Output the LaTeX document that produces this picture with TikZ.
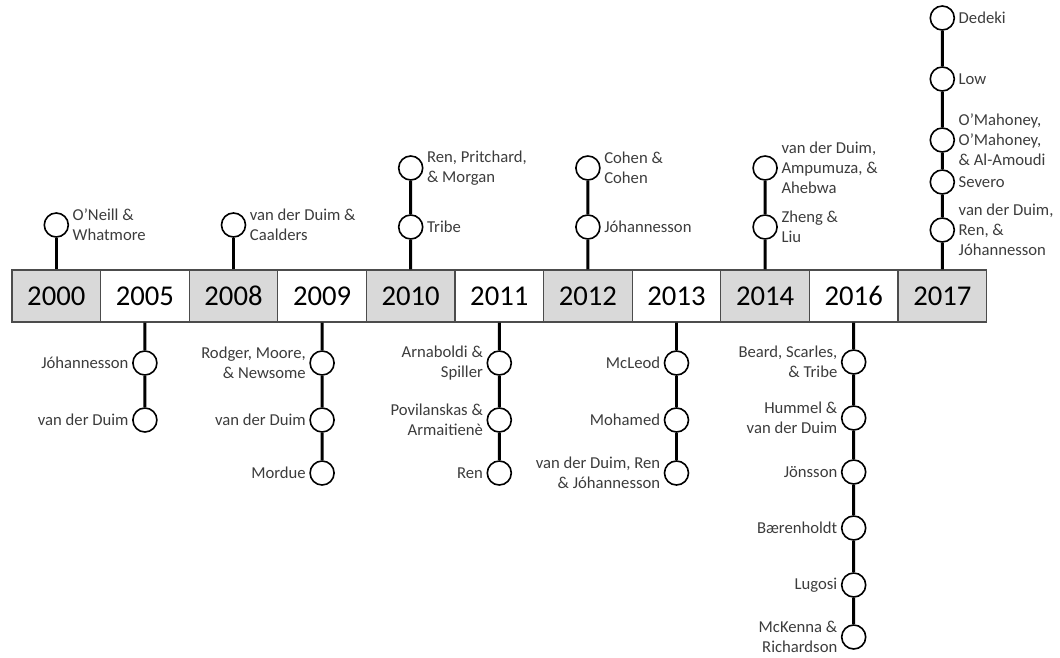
\documentclass[tikz,border=0pt]{standalone}
\usepackage{fontspec}
\setmainfont{Carlito}
\usetikzlibrary{positioning}

\definecolor{boxgray}{HTML}{D9D9D9}
\definecolor{notegray}{HTML}{3C3C3C}

\begin{document}
\begin{tikzpicture}[x=0.75pt, y=-0.75pt, node distance=1.5pt,
    year/.style={draw=black!70, line width=0.9pt, minimum width=66.45pt,
        minimum height=39pt, inner sep=0pt, font=\fontsize{21.5}{24}\selectfont},
    pub/.style={circle, draw, fill=white, line width=1.2pt, minimum size=18pt, inner sep=0pt},
    stem/.style={line width=2.2pt},
    note/.style={font=\fontsize{12.5}{15}\selectfont, text=notegray, inner sep=1pt}]

    \useasboundingbox (0,0) rectangle (1060,657);

    % Year boxes, grey and white in turn
    \foreach \yr [count=\i from 0] in {2000,2005,2008,2009,2010,2011,2012,2013,2014,2016,2017} {
        \ifodd\i \def\boxfill{white}\else \def\boxfill{boxgray}\fi
        \node[year, fill=\boxfill] (y\yr) at ({56.3+88.6*\i},296) {\yr};
    }

    % Publications above the line
    \node[pub] (c2000a) at (56.3,225) {};
    \node[pub] (c2008a) at (233.5,225) {};
    \node[pub] (c2010a) at (410.7,168) {};
    \node[pub] (c2010b) at (410.7,227) {};
    \node[pub] (c2012a) at (587.9,168) {};
    \node[pub] (c2012b) at (587.9,227) {};
    \node[pub] (c2014a) at (765.1,168) {};
    \node[pub] (c2014b) at (765.1,227) {};
    \node[pub] (c2017a) at (942.3,18) {};
    \node[pub] (c2017b) at (942.3,79) {};
    \node[pub] (c2017c) at (942.3,140) {};
    \node[pub] (c2017d) at (942.3,182) {};
    \node[pub] (c2017e) at (942.3,230) {};

    \node[note, align=left, right=of c2000a] (t2000a) {O'Neill \&\\Whatmore};
    \node[note, align=left, right=of c2008a] (t2008a) {van der Duim \&\\Caalders};
    \node[note, align=left, right=of c2010a] (t2010a) {Ren, Pritchard,\\\& Morgan};
    \node[note, align=left, right=of c2010b] (t2010b) {Tribe};
    \node[note, align=left, right=of c2012a] (t2012a) {Cohen \&\\Cohen};
    \node[note, align=left, right=of c2012b] (t2012b) {Jóhannesson};
    \node[note, align=left, right=of c2014a] (t2014a) {van der Duim,\\Ampumuza, \&\\Ahebwa};
    \node[note, align=left, right=of c2014b] (t2014b) {Zheng \&\\Liu};
    \node[note, align=left, right=of c2017a] (t2017a) {Dedeki};
    \node[note, align=left, right=of c2017b] (t2017b) {Low};
    \node[note, align=left, right=of c2017c] (t2017c) {O'Mahoney,\\O'Mahoney,\\\& Al-Amoudi};
    \node[note, align=left, right=of c2017d] (t2017d) {Severo};
    \node[note, align=left, right=of c2017e] (t2017e) {van der Duim,\\Ren, \&\\Jóhannesson};

    % Publications below the line
    \node[pub] (c2005a) at (144.9,363) {};
    \node[pub] (c2005b) at (144.9,420) {};
    \node[pub] (c2009a) at (322.1,363) {};
    \node[pub] (c2009b) at (322.1,420) {};
    \node[pub] (c2009c) at (322.1,473) {};
    \node[pub] (c2011a) at (499.3,363) {};
    \node[pub] (c2011b) at (499.3,420) {};
    \node[pub] (c2011c) at (499.3,473) {};
    \node[pub] (c2013a) at (676.5,363) {};
    \node[pub] (c2013b) at (676.5,420) {};
    \node[pub] (c2013c) at (676.5,473) {};
    \node[pub] (c2016a) at (853.7,362) {};
    \node[pub] (c2016b) at (853.7,418) {};
    \node[pub] (c2016c) at (853.7,472) {};
    \node[pub] (c2016d) at (853.7,528) {};
    \node[pub] (c2016e) at (853.7,585) {};
    \node[pub] (c2016f) at (853.7,637) {};

    \node[note, align=right, left=of c2005a] (t2005a) {Jóhannesson};
    \node[note, align=right, left=of c2005b] (t2005b) {van der Duim};
    \node[note, align=right, left=of c2009a] (t2009a) {Rodger, Moore,\\\& Newsome};
    \node[note, align=right, left=of c2009b] (t2009b) {van der Duim};
    \node[note, align=right, left=of c2009c] (t2009c) {Mordue};
    \node[note, align=right, left=of c2011a] (t2011a) {Arnaboldi \&\\Spiller};
    \node[note, align=right, left=of c2011b] (t2011b) {Povilanskas \&\\Armaitienè};
    \node[note, align=right, left=of c2011c] (t2011c) {Ren};
    \node[note, align=right, left=of c2013a] (t2013a) {McLeod};
    \node[note, align=right, left=of c2013b] (t2013b) {Mohamed};
    \node[note, align=right, left=of c2013c] (t2013c) {van der Duim, Ren\\\& Jóhannesson};
    \node[note, align=right, left=of c2016a] (t2016a) {Beard, Scarles,\\\& Tribe};
    \node[note, align=right, left=of c2016b] (t2016b) {Hummel \&\\van der Duim};
    \node[note, align=right, left=of c2016c] (t2016c) {Jönsson};
    \node[note, align=right, left=of c2016d] (t2016d) {Bærenholdt};
    \node[note, align=right, left=of c2016e] (t2016e) {Lugosi};
    \node[note, align=right, left=of c2016f] (t2016f) {McKenna \&\\Richardson};

    % Stems
    \draw[stem] (y2000) -- (c2000a);
    \draw[stem] (y2008) -- (c2008a);
    \draw[stem] (y2010) -- (c2010b) -- (c2010a);
    \draw[stem] (y2012) -- (c2012b) -- (c2012a);
    \draw[stem] (y2014) -- (c2014b) -- (c2014a);
    \draw[stem] (y2017) -- (c2017e) -- (c2017d) -- (c2017c) -- (c2017b) -- (c2017a);
    \draw[stem] (y2005) -- (c2005a) -- (c2005b);
    \draw[stem] (y2009) -- (c2009a) -- (c2009b) -- (c2009c);
    \draw[stem] (y2011) -- (c2011a) -- (c2011b) -- (c2011c);
    \draw[stem] (y2013) -- (c2013a) -- (c2013b) -- (c2013c);
    \draw[stem] (y2016) -- (c2016a) -- (c2016b) -- (c2016c) -- (c2016d) -- (c2016e) -- (c2016f);
\end{tikzpicture}
\end{document}
